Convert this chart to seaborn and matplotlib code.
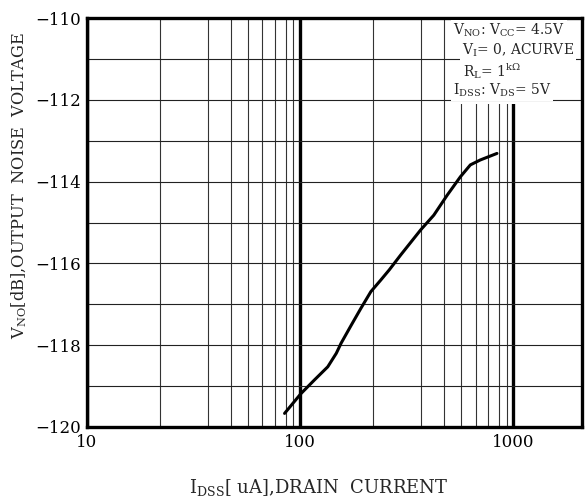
import numpy as np
import pandas as pd
import matplotlib
matplotlib.use("Agg")
import matplotlib.pyplot as plt
import seaborn as sns
from matplotlib.patches import Rectangle
from matplotlib.ticker import FixedLocator, NullFormatter

# drain current (uA) vs output noise voltage (dB)
idss = [84.7, 100.9, 117, 135, 148, 156, 174, 193, 215, 239, 262,
        297, 368, 424, 490, 565, 629, 700, 838]
vno = [-119.67, -119.19, -118.85, -118.53, -118.20, -117.95, -117.51,
       -117.10, -116.69, -116.41, -116.16, -115.79, -115.18, -114.82,
       -114.33, -113.88, -113.59, -113.47, -113.31]

x_major = [10, 100, 1000]
x_labels = ["10", "100", "1000"]
# the chart's minor grid positions inside each decade (as drawn in the original)
minor_steps = [2.2, 3.7, 4.75, 5.7, 6.65, 7.65, 8.6, 9.3]
y_major = [-120, -118, -116, -114, -112, -110]
y_grid = [-119, -118, -117, -116, -115, -114, -113, -112, -111]

cond_lines = [r"$\mathrm{V_{NO}}$: $\mathrm{V_{CC}}$= 4.5V",
              r"$\mathrm{V_{I}}$= 0, ACURVE",
              r"$\mathrm{R_{L}}$= 1$^{\mathrm{k\Omega}}$",
              r"$\mathrm{I_{DSS}}$: $\mathrm{V_{DS}}$= 5V"]

sns.set_style("white")
plt.rcParams["font.family"] = ["DejaVu Serif"]
plt.rcParams["mathtext.fontset"] = "dejavuserif"

df = pd.DataFrame({"idss": idss, "vno": vno})

fig = plt.figure(figsize=(5.85, 5.04), dpi=100)
ax = fig.add_axes([0.148, 0.153, 0.847, 0.811])
ax.set_xscale("log")
ax.set_xlim(10, 2100)
ax.set_ylim(-120, -110)

# vertical grid
minor_x = [d * s for d in x_major for s in minor_steps if d * s < 2100]
ax.xaxis.set_major_locator(FixedLocator(x_major))
ax.xaxis.set_minor_locator(FixedLocator(minor_x))
ax.xaxis.set_minor_formatter(NullFormatter())
ax.set_xticklabels(x_labels)
ax.set_yticks(y_major)
ax.set_axisbelow(True)
ax.grid(axis="x", which="minor", color="#333333", lw=0.8)
ax.grid(axis="x", which="major", color="black", lw=2.4)

# horizontal grid, drawn above the white condition box
for yv in y_grid:
    ax.axhline(yv, color="#222222", lw=0.8, zorder=1.5)

# white box for the conditions text
ax.add_patch(Rectangle((0.725, 0.79), 0.28, 0.22, transform=ax.transAxes,
                       facecolor="white", edgecolor="none", zorder=1.2))

ys = [0.970, 0.922, 0.870, 0.824]
xs = [0.739, 0.757, 0.760, 0.739]
for t, xx, yy in zip(cond_lines, xs, ys):
    ax.text(xx, yy, t, transform=ax.transAxes, fontsize=10, va="center",
            ha="left", zorder=3,
            bbox=dict(facecolor="white", edgecolor="none", pad=1.5))

sns.lineplot(data=df, x="idss", y="vno", ax=ax, color="black", lw=2.2,
             zorder=4)

for s in ax.spines.values():
    s.set_linewidth(2.4)
    s.set_color("black")
ax.tick_params(which="both", length=0, labelsize=12, colors="black")
ax.tick_params(axis="x", pad=5)
ax.tick_params(axis="y", pad=4)

ax.set_xlabel("")
ax.set_ylabel("")
fig.text(319 / 585, 1 - 488 / 504, r"$\mathrm{I_{DSS}}$[ uA],DRAIN  CURRENT",
         fontsize=13, ha="center", va="center")
fig.text(19 / 585, 1 - 186 / 504,
         r"$\mathrm{V_{NO}}$[dB],OUTPUT  NOISE  VOLTAGE",
         fontsize=11.7, ha="center", va="center", rotation=90)

fig.savefig("out.png", dpi=100)
